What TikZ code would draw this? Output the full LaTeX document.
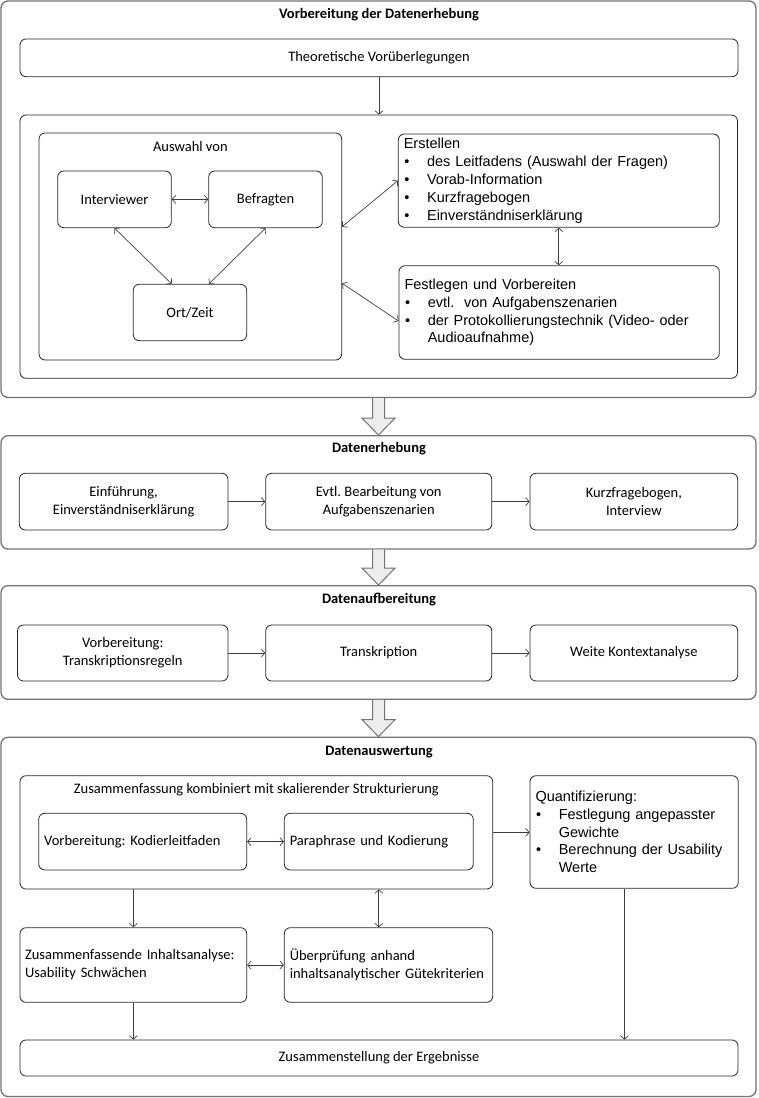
\documentclass[tikz,border=0pt]{standalone}
\usepackage{fontspec}
\setmainfont{Carlito}
\newfontfamily\arialfont{Liberation Sans}
\usetikzlibrary{calc}
\usetikzlibrary{positioning}
\usetikzlibrary{arrows.meta}
\tikzstyle{phasebox} = [draw=black!55, line width=1.3pt, rounded corners=7pt]
\tikzstyle{phasetitle} = [font=\bfseries\fontsize{14.5}{17.8}\selectfont]
\tikzstyle{stepbox} = [draw=black!85, line width=0.8pt, rounded corners=6pt, align=center, inner sep=0pt]
\tikzstyle{leftbox} = [stepbox, align=left, inner xsep=5.5pt]
\tikzstyle{listbox} = [leftbox, font=\arialfont\fontsize{14.5}{17.8}\selectfont]
\tikzstyle{link} = [draw=black!75, line width=0.7pt]
\tikzstyle{bigarrow} = [draw=black!55, line width=1pt, fill=black!7]
\newcommand{\blt}{\makebox[23.3pt][l]{\hspace{0.5pt}•}}
\newcommand{\hang}{\hspace*{23.3pt}}
\frenchspacing

\begin{document}
\begin{tikzpicture}[x=1pt, y=-1pt, >={Straight Barb[length=3.5pt,width=8pt]},
    every node/.style={font=\fontsize{14.5}{17.8}\selectfont}]
    \useasboundingbox (0,0) rectangle (758,1098);

    % Vorbereitung der Datenerhebung
    \node[phasebox, minimum width=755pt, minimum height=396.5pt] (vorb) at (378.5,199.25) {};
    \node[phasetitle] (vorb_title) at (379,15) {Vorbereitung der Datenerhebung};
    \node[stepbox, minimum width=718pt, minimum height=37.7pt] (theo) at (379,57.85) {Theoretische Vorüberlegungen};
    \node[stepbox, minimum width=717.5pt, minimum height=263.3pt] (prep) at (378.75,246.65) {};
    \node[stepbox, minimum width=302.7pt, minimum height=227pt] (auswahl) at (190.35,246.5) {};
    \node (auswahl_title) at ($(auswahl.north)+(0,13.7)$) {Auswahl von};
    \node[stepbox, minimum width=113.6pt, minimum height=56.7pt] (interv) at (114.5,199.35) {Interviewer};
    \node[stepbox, minimum width=113.6pt, minimum height=56.7pt] (befr) at ($(interv)+(151,0)$) {Befragten};
    \node[stepbox, minimum width=113.4pt, minimum height=56.4pt] (ort) at (190,312.5) {Ort/Zeit};
    \node[listbox, text width=310pt, minimum height=93.3pt] (erst) at (558.8,180.65)
        {Erstellen\\ \blt des Leitfadens (Auswahl der Fragen)\\ \blt Vorab-Information\\ \blt Kurzfragebogen\\ \blt Einverständniserklärung};
    \node[listbox, text width=309.3pt, minimum height=93.6pt] (festl) at (559.15,312.5)
        {Festlegen und Vorbereiten\\ \blt evtl.\ \ von Aufgabenszenarien\\ \blt der Protokollierungstechnik (Video- oder\\ \hang Audioaufnahme)};
    \draw[link, ->] (theo.south) -- (theo.south |- prep.north);
    \draw[link, <->] (interv) -- (befr);
    \draw[link, <->] (interv.south) -- ($(ort.north)+(-18.3,0)$);
    \draw[link, <->] (befr.south) -- ($(ort.north)+(19,0)$);
    \draw[link, <->] ($(auswahl.east)+(0,-19.8)$) -- (erst.west);
    \draw[link, <->] ($(auswahl.east)+(0,36.8)$) -- ($(festl.west)+(0,8.5)$);
    \draw[link, <->] (erst.south) -- (erst.south |- festl.north);

    % Datenerhebung
    \node[phasebox, minimum width=755pt, minimum height=113.3pt] (erheb) at (378.5,492.35) {};
    \node[phasetitle] (erheb_title) at (379,449) {Datenerhebung};
    \node[stepbox, minimum width=208.7pt, minimum height=56.7pt] (einf) at (123.65,501.65) {Einführung,\\Einverständniserklärung};
    \node[stepbox, minimum width=226.1pt, minimum height=56.7pt] (bearb) at (378.75,501.65) {Evtl. Bearbeitung von\\Aufgabenszenarien};
    \node[stepbox, minimum width=207.7pt, minimum height=56.7pt] (kurz) at (633.85,501.65) {Kurzfragebogen,\\Interview};
    \draw[link, ->] (einf) -- (bearb);
    \draw[link, ->] (bearb) -- (kurz);

    % Datenaufbereitung
    \node[phasebox, minimum width=755pt, minimum height=113.6pt] (aufb) at (378.5,642.5) {};
    \node[phasetitle] (aufb_title) at (379,599.3) {Datenaufbereitung};
    \node[stepbox, minimum width=210.5pt, minimum height=56pt] (vorbtr) at (122.75,653) {Vorbereitung:\\Transkriptionsregeln};
    \node[stepbox, minimum width=226.1pt, minimum height=56pt] (trans) at (378.75,653) {Transkription};
    \node[stepbox, minimum width=207.7pt, minimum height=56pt] (kontext) at (633.85,653) {Weite Kontextanalyse};
    \draw[link, ->] (vorbtr) -- (trans);
    \draw[link, ->] (trans) -- (kontext);

    % Datenauswertung
    \node[phasebox, minimum width=755pt, minimum height=359.2pt] (ausw) at (378.5,916.9) {};
    \node[phasetitle] (ausw_title) at (379,751.7) {Datenauswertung};
    \node[stepbox, minimum width=472.7pt, minimum height=113.3pt] (zusf) at (256.35,832.35) {};
    \node (zusf_title) at ($(zusf.north)+(0,14.3)$) {Zusammenfassung kombiniert mit skalierender Strukturierung};
    \node[leftbox, text width=197pt, minimum height=56.7pt] (kodl) at (142.7,841.65) {Vorbereitung: Kodierleitfaden};
    \node[leftbox, text width=178pt, minimum height=56.7pt] (para) at (378.8,841.65) {Paraphrase und Kodierung};
    \node[listbox, text width=197.3pt, minimum height=112.6pt] (quant) at (634.15,832)
        {Quantifizierung:\\ \blt Festlegung angepasster\\ \hang Gewichte\\ \blt Berechnung der Usability\\ \hang Werte};
    \node[leftbox, inner xsep=5pt, text width=216.7pt, minimum height=74.6pt] (zusi) at (133.35,965) {Zusammenfassende Inhaltsanalyse:\\Usability Schwächen};
    \node[leftbox, text width=197.4pt, minimum height=74.6pt] (uepr) at (388.5,965) {Überprüfung anhand\\inhaltsanalytischer Gütekriterien};
    \node[stepbox, minimum width=718pt, minimum height=36pt] (erg) at (379,1058) {Zusammenstellung der Ergebnisse};
    \coordinate (quant_out) at ($(quant.south)+(-9.8,0)$);
    \draw[link, <->] (kodl) -- (para);
    \draw[link, ->] (zusf.east) -- (zusf.east -| quant.west);
    \draw[link, ->] (zusi.north |- zusf.south) -- (zusi.north);
    \draw[link, <->] (para.south |- zusf.south) -- (para.south |- uepr.north);
    \draw[link, <->] (zusi) -- (uepr);
    \draw[link, ->] (zusi.south) -- (zusi.south |- erg.north);
    \draw[link, ->] (quant_out) -- (quant_out |- erg.north);

    % Blockpfeile zwischen den Phasen
    \foreach \a/\b in {vorb/erheb, erheb/aufb, aufb/ausw}
        \draw[bigarrow] ($(\a.south)+(-6,0)$) -- ($(\b.north)+(-6,-17)$) -- ($(\b.north)+(-16.5,-17)$) -- (\b.north)
            -- ($(\b.north)+(16.5,-17)$) -- ($(\b.north)+(6,-17)$) -- ($(\a.south)+(6,0)$);
\end{tikzpicture}
\end{document}
